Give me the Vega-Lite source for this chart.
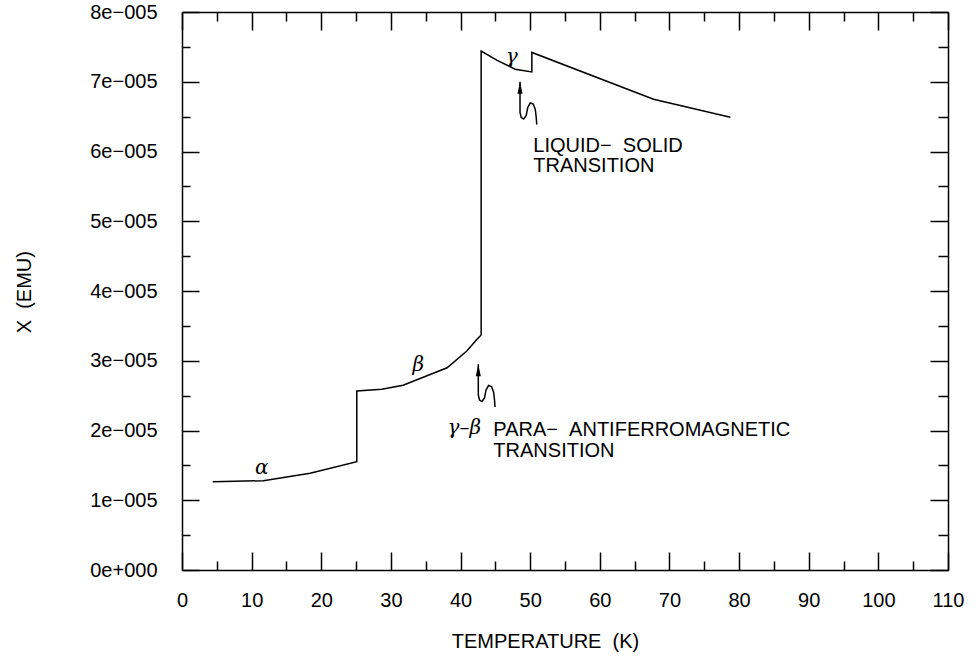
{
  "$schema": "https://vega.github.io/schema/vega-lite/v6.json",
  "width": 766,
  "height": 558,
  "autosize": {"type": "none"},
  "padding": {"left": 182, "top": 12, "right": 31, "bottom": 86},
  "background": "white",
  "config": {
    "view": {"stroke": null},
    "axis": {
      "grid": false,
      "domainColor": "black",
      "domainWidth": 1.5,
      "tickColor": "black",
      "tickWidth": 1.5,
      "labelFont": "Liberation Sans",
      "labelFontSize": 20,
      "labelColor": "black",
      "titleFont": "Liberation Sans",
      "titleFontSize": 20,
      "titleFontWeight": "normal",
      "titleColor": "black",
      "labelFlush": false,
      "labelOverlap": false
    }
  },
  "datasets": {
    "curve": [
      {"s": "main", "i": 1, "T": 4.41, "chi": 1.266e-5},
      {"s": "main", "i": 2, "T": 11.68, "chi": 1.28e-5},
      {"s": "main", "i": 3, "T": 18.39, "chi": 1.386e-5},
      {"s": "main", "i": 4, "T": 25.1, "chi": 1.553e-5},
      {"s": "main", "i": 5, "T": 25.1, "chi": 2.566e-5},
      {"s": "main", "i": 6, "T": 28.69, "chi": 2.59e-5},
      {"s": "main", "i": 7, "T": 31.75, "chi": 2.65e-5},
      {"s": "main", "i": 8, "T": 38.07, "chi": 2.9e-5},
      {"s": "main", "i": 9, "T": 40.9, "chi": 3.14e-5},
      {"s": "main", "i": 10, "T": 42.3, "chi": 3.3e-5},
      {"s": "main", "i": 11, "T": 42.96, "chi": 3.37e-5},
      {"s": "main", "i": 12, "T": 42.96, "chi": 7.44e-5},
      {"s": "main", "i": 13, "T": 45.2, "chi": 7.31e-5},
      {"s": "main", "i": 14, "T": 47.84, "chi": 7.18e-5},
      {"s": "main", "i": 15, "T": 50.24, "chi": 7.14e-5},
      {"s": "main", "i": 16, "T": 50.24, "chi": 7.42e-5},
      {"s": "main", "i": 17, "T": 67.72, "chi": 6.75e-5},
      {"s": "main", "i": 18, "T": 78.74, "chi": 6.49e-5},
      {"s": "arrow1", "i": 1, "T": 42.55, "chi": 2.949e-5},
      {"s": "arrow1", "i": 2, "T": 42.55, "chi": 2.509e-5},
      {"s": "arrow1", "i": 3, "T": 42.73, "chi": 2.437e-5},
      {"s": "arrow1", "i": 4, "T": 43.08, "chi": 2.416e-5},
      {"s": "arrow1", "i": 5, "T": 43.44, "chi": 2.466e-5},
      {"s": "arrow1", "i": 6, "T": 43.66, "chi": 2.581e-5},
      {"s": "arrow1", "i": 7, "T": 44.02, "chi": 2.645e-5},
      {"s": "arrow1", "i": 8, "T": 44.45, "chi": 2.631e-5},
      {"s": "arrow1", "i": 9, "T": 44.74, "chi": 2.552e-5},
      {"s": "arrow1", "i": 10, "T": 44.88, "chi": 2.437e-5},
      {"s": "arrow1", "i": 11, "T": 44.95, "chi": 2.337e-5},
      {"s": "arrow2", "i": 1, "T": 48.54, "chi": 6.999e-5},
      {"s": "arrow2", "i": 2, "T": 48.54, "chi": 6.559e-5},
      {"s": "arrow2", "i": 3, "T": 48.72, "chi": 6.487e-5},
      {"s": "arrow2", "i": 4, "T": 49.07, "chi": 6.466e-5},
      {"s": "arrow2", "i": 5, "T": 49.43, "chi": 6.516e-5},
      {"s": "arrow2", "i": 6, "T": 49.65, "chi": 6.631e-5},
      {"s": "arrow2", "i": 7, "T": 50.01, "chi": 6.695e-5},
      {"s": "arrow2", "i": 8, "T": 50.44, "chi": 6.681e-5},
      {"s": "arrow2", "i": 9, "T": 50.73, "chi": 6.602e-5},
      {"s": "arrow2", "i": 10, "T": 50.87, "chi": 6.487e-5},
      {"s": "arrow2", "i": 11, "T": 50.94, "chi": 6.387e-5}
    ],
    "heads": [
      {"T": 42.55, "chi": 2.949e-5},
      {"T": 48.54, "chi": 6.999e-5}
    ],
    "notes": [
      {"T": 44.71, "chi": 1.92e-5, "label": "PARA\u2212\u00a0\u00a0ANTIFERROMAGNETIC"},
      {"T": 44.71, "chi": 1.615e-5, "label": "TRANSITION"},
      {"T": 50.45, "chi": 5.997e-5, "label": "LIQUID\u2212\u00a0\u00a0SOLID"},
      {"T": 50.45, "chi": 5.7e-5, "label": "TRANSITION"}
    ],
    "greek": [
      {"T": 11.45, "chi": 1.458e-5, "label": "α"},
      {"T": 33.94, "chi": 2.939e-5, "label": "β"},
      {"T": 47.35, "chi": 7.36e-5, "label": "γ"},
      {"T": 40.53, "chi": 2.032e-5, "label": "γ–β"}
    ]
  },
  "layer": [
    {
      "data": {"name": "curve"},
      "encoding": {
        "x": {
          "field": "T", "type": "quantitative",
          "scale": {"domain": [0, 110], "nice": false, "zero": false},
          "axis": {
            "orient": "bottom",
            "values": [0, 10, 20, 30, 40, 50, 60, 70, 80, 90, 100, 110],
            "tickSize": -18,
            "labelPadding": 38,
            "labelBaseline": "top",
            "labelAlign": "center",
            "title": "TEMPERATURE\u00a0\u00a0(K)",
            "titleX": 363,
            "titleY": 77,
            "titleBaseline": "alphabetic",
            "titleAlign": "center"
          }
        },
        "y": {
          "field": "chi", "type": "quantitative",
          "scale": {"domain": [0, 8e-5], "nice": false, "zero": false},
          "axis": {
            "orient": "left",
            "values": [0, 1e-5, 2e-5, 3e-5, 4e-5, 5e-5, 6e-5, 7e-5, 8e-5],
            "tickSize": -17,
            "labelPadding": 42,
            "labelAlign": "right",
            "labelBaseline": "middle",
            "labelExpr": "datum.value == 0 ? '0e+000' : format(datum.value * 100000, '.0f') + 'e\u2212005'",
            "title": "X\u00a0\u00a0(EMU)",
            "titleX": -152,
            "titleY": 279.7,
            "titleAngle": -90,
            "titleBaseline": "alphabetic",
            "titleAlign": "center"
          }
        }
      },
      "layer": [
        {
          "mark": {"type": "line", "color": "black", "strokeWidth": 1.5},
          "encoding": {"detail": {"field": "s"}, "order": {"field": "i", "type": "quantitative"}}
        },
        {
          "data": {"name": "heads"},
          "mark": {"type": "point", "shape": "M0,0L0.42,2L-0.42,2Z", "filled": true, "color": "black", "size": 144, "opacity": 1, "strokeWidth": 0}
        },
        {
          "data": {"name": "notes"},
          "mark": {"type": "text", "align": "left", "baseline": "alphabetic", "font": "Liberation Sans", "fontSize": 20, "color": "black"},
          "encoding": {"text": {"field": "label"}}
        },
        {
          "data": {"name": "greek"},
          "mark": {"type": "text", "align": "center", "baseline": "middle", "font": "DejaVu Serif", "fontStyle": "italic", "fontSize": 20, "color": "black"},
          "encoding": {"text": {"field": "label"}}
        }
      ]
    },
    {
      "data": {"name": "heads"},
      "mark": {"type": "point", "opacity": 0},
      "encoding": {
        "x": {
          "field": "T", "type": "quantitative",
          "scale": {"domain": [0, 110], "nice": false, "zero": false},
          "axis": {"orient": "bottom", "values": [5, 15, 25, 35, 45, 55, 65, 75, 85, 95, 105], "tickSize": -9, "labels": false, "domain": false, "title": null}
        },
        "y": {
          "field": "chi", "type": "quantitative",
          "scale": {"domain": [0, 8e-5], "nice": false, "zero": false},
          "axis": {"orient": "left", "values": [0.5e-5, 1.5e-5, 2.5e-5, 3.5e-5, 4.5e-5, 5.5e-5, 6.5e-5, 7.5e-5], "tickSize": -8, "labels": false, "domain": false, "title": null}
        }
      }
    },
    {
      "data": {"name": "heads"},
      "mark": {"type": "point", "opacity": 0},
      "encoding": {
        "x": {
          "field": "T", "type": "quantitative",
          "scale": {"domain": [0, 110], "nice": false, "zero": false},
          "axis": {"orient": "top", "values": [0, 10, 20, 30, 40, 50, 60, 70, 80, 90, 100, 110], "tickSize": -18, "labels": false, "domain": true, "title": null}
        },
        "y": {
          "field": "chi", "type": "quantitative",
          "scale": {"domain": [0, 8e-5], "nice": false, "zero": false},
          "axis": {"orient": "right", "values": [0, 1e-5, 2e-5, 3e-5, 4e-5, 5e-5, 6e-5, 7e-5, 8e-5], "tickSize": -18, "labels": false, "domain": true, "title": null}
        }
      }
    },
    {
      "data": {"name": "heads"},
      "mark": {"type": "point", "opacity": 0},
      "encoding": {
        "x": {
          "field": "T", "type": "quantitative",
          "scale": {"domain": [0, 110], "nice": false, "zero": false},
          "axis": {"orient": "top", "values": [5, 15, 25, 35, 45, 55, 65, 75, 85, 95, 105], "tickSize": -9, "labels": false, "domain": false, "title": null}
        },
        "y": {
          "field": "chi", "type": "quantitative",
          "scale": {"domain": [0, 8e-5], "nice": false, "zero": false},
          "axis": {"orient": "right", "values": [0.5e-5, 1.5e-5, 2.5e-5, 3.5e-5, 4.5e-5, 5.5e-5, 6.5e-5, 7.5e-5], "tickSize": -10, "labels": false, "domain": false, "title": null}
        }
      }
    }
  ],
  "resolve": {"scale": {"x": "independent", "y": "independent"}}
}
